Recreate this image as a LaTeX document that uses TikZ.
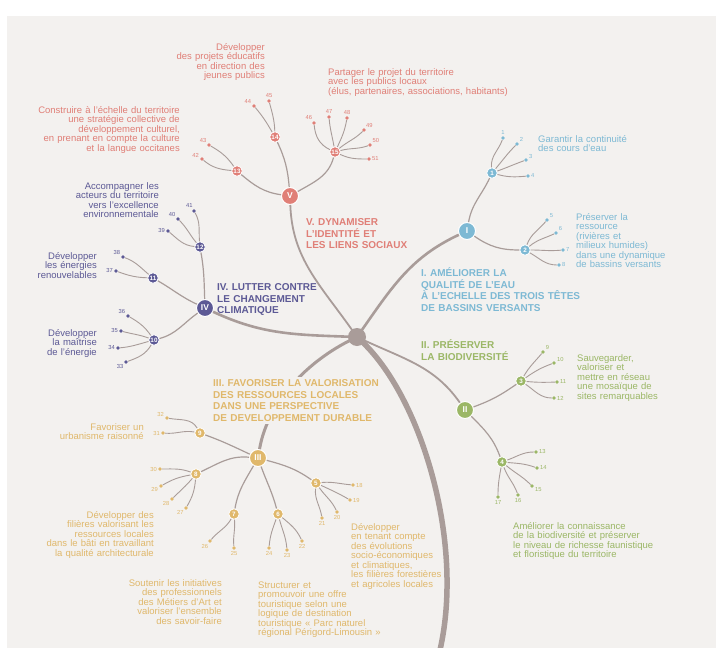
\documentclass[tikz,border=0pt]{standalone}
\usepackage{fontspec}
\setmainfont{Liberation Sans}
\definecolor{bgpaper}{HTML}{F3F1EF}
\definecolor{branchgrey}{HTML}{A99C99}
\definecolor{axeV}{HTML}{E07F77}
\definecolor{axeI}{HTML}{7DB9D4}
\definecolor{axeII}{HTML}{9BB766}
\definecolor{axeIII}{HTML}{E0B86B}
\definecolor{axeIV}{HTML}{5C5995}
\newcommand{\axetext}{\fontsize{9.5}{9.5}\selectfont\lineskiplimit=-10pt}
\newcommand{\axetitle}{\fontsize{10}{11.5}\selectfont\bfseries\lineskiplimit=-10pt}
\begin{document}
\begin{tikzpicture}[x=1pt,y=-1pt]
      % Define styles for nodes
      \tikzstyle{hub} = [circle,fill=branchgrey,minimum size=18pt,inner sep=0pt]
      \tikzstyle{axe} = [circle,fill=#1,draw=white,line width=1pt,
      minimum size=17pt,inner sep=0pt,text=white,
      font=\fontsize{8.5}{8.5}\selectfont\bfseries]
      \tikzstyle{goal} = [circle,fill=#1,draw=white,line width=.8pt,
      minimum size=10.5pt,inner sep=0pt,text=white,
      font=\fontsize{6.3}{6.3}\selectfont\bfseries]
      \tikzstyle{leaf} = [circle,fill=#1,minimum size=3.8pt,inner sep=0pt]
      \tikzstyle{num} = [inner sep=.9pt,text=#1,font=\fontsize{5.8}{5.8}\selectfont]
      \tikzstyle{twig} = [draw=branchgrey,line width=.9pt]
      \tikzstyle{bough} = [draw=branchgrey,line width=1.2pt]
      \tikzstyle{blurb} = [inner sep=0pt,text=#1,font=\axetext,text width=200pt]
      \tikzstyle{headline} = [inner sep=0pt,text=#1,font=\axetitle,
      text width=180pt,align=left,anchor=base west]

      % Paper
      \useasboundingbox (0,0) rectangle (716,648);
      \fill[white] (0,0) rectangle (716,648);
      \fill[bgpaper] (7,16) rectangle (716,648);

      % Hub and axes
      \node[hub] (hub) at (357,337) {};
      \coordinate (trunkend) at (440,650);
      \node[axe=axeI] (I) at (467,231) {I};
      \node[axe=axeII] (II) at (465,410) {II};
      \node[axe=axeIII] (III) at (258,458) {III};
      \node[axe=axeIV] (IV) at (205,308) {IV};
      \node[axe=axeV] (V) at (290,196) {V};

      % Goals
      \node[goal=axeI] (g1) at (492,173) {1};
      \node[goal=axeI] (g2) at (525,250) {2};
      \node[goal=axeII] (g3) at (521,381) {3};
      \node[goal=axeII] (g4) at (502,462) {4};
      \node[goal=axeIII] (g5) at (316,483) {5};
      \node[goal=axeIII] (g6) at (278,514) {6};
      \node[goal=axeIII] (g7) at (234,514) {7};
      \node[goal=axeIII] (g8) at (196,474) {8};
      \node[goal=axeIII] (g9) at (200,433) {9};
      \node[goal=axeIV] (g10) at (154,340) {10};
      \node[goal=axeIV] (g11) at (153,278) {11};
      \node[goal=axeIV] (g12) at (200,247) {12};
      \node[goal=axeV] (g13) at (237,171) {13};
      \node[goal=axeV] (g14) at (275,137) {14};
      \node[goal=axeV] (g15) at (335,152) {15};

      % Actions (axe I)
      \node[leaf=axeI,label={[num=axeI]above:1}] (l1) at (503,138) {};
      \node[leaf=axeI,label={[num=axeI]30:2}] (l2) at (517,144) {};
      \node[leaf=axeI,label={[num=axeI]20:3}] (l3) at (526,160) {};
      \node[leaf=axeI,label={[num=axeI]right:4}] (l4) at (528,176) {};
      \node[leaf=axeI,label={[num=axeI]30:5}] (l5) at (547,220) {};
      \node[leaf=axeI,label={[num=axeI]30:6}] (l6) at (556,233) {};
      \node[leaf=axeI,label={[num=axeI]right:7}] (l7) at (563,250) {};
      \node[leaf=axeI,label={[num=axeI]right:8}] (l8) at (559,265) {};

      % Actions (axe II)
      \node[leaf=axeII,label={[num=axeII]30:9}] (l9) at (543,352) {};
      \node[leaf=axeII,label={[num=axeII]20:10}] (l10) at (554,363) {};
      \node[leaf=axeII,label={[num=axeII]right:11}] (l11) at (557,382) {};
      \node[leaf=axeII,label={[num=axeII]right:12}] (l12) at (554,398) {};
      \node[leaf=axeII,label={[num=axeII]right:13}] (l13) at (536,452) {};
      \node[leaf=axeII,label={[num=axeII]right:14}] (l14) at (537,468) {};
      \node[leaf=axeII,label={[num=axeII]-20:15}] (l15) at (532,486) {};
      \node[leaf=axeII,label={[num=axeII]below:16}] (l16) at (518,495) {};
      \node[leaf=axeII,label={[num=axeII]below:17}] (l17) at (498,497) {};

      % Actions (axe III)
      \node[leaf=axeIII,label={[num=axeIII]right:18}] (l18) at (353,485) {};
      \node[leaf=axeIII,label={[num=axeIII]right:19}] (l19) at (350,500) {};
      \node[leaf=axeIII,label={[num=axeIII]below:20}] (l20) at (337,512) {};
      \node[leaf=axeIII,label={[num=axeIII]below:21}] (l21) at (322,518) {};
      \node[leaf=axeIII,label={[num=axeIII]below:22}] (l22) at (302,541) {};
      \node[leaf=axeIII,label={[num=axeIII]below:23}] (l23) at (287,550) {};
      \node[leaf=axeIII,label={[num=axeIII]below:24}] (l24) at (269,548) {};
      \node[leaf=axeIII,label={[num=axeIII]below:25}] (l25) at (234,548) {};
      \node[leaf=axeIII,label={[num=axeIII]245:26}] (l26) at (210,541) {};
      \node[leaf=axeIII,label={[num=axeIII]230:27}] (l27) at (186,508) {};
      \node[leaf=axeIII,label={[num=axeIII]220:28}] (l28) at (172,499) {};
      \node[leaf=axeIII,label={[num=axeIII]200:29}] (l29) at (161,486) {};
      \node[leaf=axeIII,label={[num=axeIII]left:30}] (l30) at (160,469) {};
      \node[leaf=axeIII,label={[num=axeIII]left:31}] (l31) at (163,433) {};
      \node[leaf=axeIII,label={[num=axeIII]160:32}] (l32) at (167,418) {};

      % Actions (axe IV)
      \node[leaf=axeIV,label={[num=axeIV]220:33}] (l33) at (126,362) {};
      \node[leaf=axeIV,label={[num=axeIV]left:34}] (l34) at (118,348) {};
      \node[leaf=axeIV,label={[num=axeIV]left:35}] (l35) at (121,331) {};
      \node[leaf=axeIV,label={[num=axeIV]145:36}] (l36) at (128,316) {};
      \node[leaf=axeIV,label={[num=axeIV]left:37}] (l37) at (116,271) {};
      \node[leaf=axeIV,label={[num=axeIV]150:38}] (l38) at (123,257) {};
      \node[leaf=axeIV,label={[num=axeIV]left:39}] (l39) at (168,231) {};
      \node[leaf=axeIV,label={[num=axeIV]135:40}] (l40) at (178,219) {};
      \node[leaf=axeIV,label={[num=axeIV]100:41}] (l41) at (194,211) {};

      % Actions (axe V)
      \node[leaf=axeV,label={[num=axeV]160:42}] (l42) at (202,159) {};
      \node[leaf=axeV,label={[num=axeV]135:43}] (l43) at (209,145) {};
      \node[leaf=axeV,label={[num=axeV]145:44}] (l44) at (254,106) {};
      \node[leaf=axeV,label={[num=axeV]above:45}] (l45) at (269,101) {};
      \node[leaf=axeV,label={[num=axeV]110:46}] (l46) at (314,123) {};
      \node[leaf=axeV,label={[num=axeV]above:47}] (l47) at (329,117) {};
      \node[leaf=axeV,label={[num=axeV]above:48}] (l48) at (347,118) {};
      \node[leaf=axeV,label={[num=axeV]60:49}] (l49) at (364,130) {};
      \node[leaf=axeV,label={[num=axeV]40:50}] (l50) at (370,145) {};
      \node[leaf=axeV,label={[num=axeV]right:51}] (l51) at (369,159) {};

      % Trunk and main branches
      \draw[branchgrey,line width=5.5pt,shorten <=-4pt] (hub) .. controls (420,395) and (465,540) .. (trunkend);
      \draw[branchgrey,line width=2.6pt,shorten <=-3pt] (hub) to[out=55,in=-155] (I);
      \draw[branchgrey,line width=1.8pt,shorten <=-3pt] (hub) to[out=-25,in=125] (II);
      \draw[branchgrey,line width=3pt,shorten <=-3pt] (hub) .. controls (310,360) and (268,400) .. (III);
      \draw[branchgrey,line width=2.6pt,shorten <=-3pt] (hub) to[out=178,in=-25] (IV);
      \draw[branchgrey,line width=1.8pt,shorten >=-3pt] (V) to[out=-88,in=125] (hub);

      % Axes to goals
      \draw[bough] (I) to[out=80,in=-115] (g1);
      \draw[bough] (I) to[out=-35,in=180] (g2);
      \draw[bough] (II) to[out=20,in=-145] (g3);
      \draw[bough] (II) to[out=-45,in=110] (g4);
      \draw[bough] (III) to[out=-15,in=145] (g5);
      \draw[bough] (III) to[out=-70,in=105] (g6);
      \draw[bough] (III) to[out=-120,in=80] (g7);
      \draw[bough] (III) to[out=175,in=25] (g8);
      \draw[bough] (III) to[out=155,in=-20] (g9);
      \draw[bough] (IV) to[out=-145,in=15] (g10);
      \draw[bough] (IV) to[out=155,in=-30] (g11);
      \draw[bough] (IV) to[out=92,in=-80] (g12);
      \draw[bough] (V) to[out=172,in=-40] (g13);
      \draw[bough] (V) to[out=95,in=-65] (g14);
      \draw[bough] (V) to[out=30,in=-105] (g15);

      % Goals to actions
      \draw[twig] (g1) to[out=95,in=-110] (l1);
      \draw[twig] (g1) to[out=50,in=-135] (l2);
      \draw[twig] (g1) to[out=20,in=-160] (l3);
      \draw[twig] (g1) to[out=-15,in=-175] (l4);
      \draw[twig] (g2) to[out=70,in=-130] (l5);
      \draw[twig] (g2) to[out=40,in=-155] (l6);
      \draw[twig] (g2) to[out=0,in=-175] (l7);
      \draw[twig] (g2) to[out=-30,in=180] (l8);
      \draw[twig] (g3) to[out=60,in=-130] (l9);
      \draw[twig] (g3) to[out=35,in=-160] (l10);
      \draw[twig] (g3) to[out=-5,in=-178] (l11);
      \draw[twig] (g3) to[out=-35,in=180] (l12);
      \draw[twig] (g4) to[out=20,in=180] (l13);
      \draw[twig] (g4) to[out=-5,in=160] (l14);
      \draw[twig] (g4) to[out=-40,in=135] (l15);
      \draw[twig] (g4) to[out=-70,in=110] (l16);
      \draw[twig] (g4) to[out=-100,in=90] (l17);
      \draw[twig] (g5) to[out=5,in=175] (l18);
      \draw[twig] (g5) to[out=-25,in=150] (l19);
      \draw[twig] (g5) to[out=-55,in=115] (l20);
      \draw[twig] (g5) to[out=-95,in=100] (l21);
      \draw[twig] (g6) to[out=-40,in=115] (l22);
      \draw[twig] (g6) to[out=-75,in=95] (l23);
      \draw[twig] (g6) to[out=-110,in=85] (l24);
      \draw[twig] (g7) to[out=-85,in=95] (l25);
      \draw[twig] (g7) to[out=-120,in=50] (l26);
      \draw[twig] (g8) to[out=-95,in=60] (l27);
      \draw[twig] (g8) to[out=-130,in=45] (l28);
      \draw[twig] (g8) to[out=-170,in=30] (l29);
      \draw[twig] (g8) to[out=160,in=0] (l30);
      \draw[twig] (g9) to[out=170,in=-5] (l31);
      \draw[twig] (g9) to[out=120,in=-10] (l32);
      \draw[twig] (g10) to[out=-120,in=20] (l33);
      \draw[twig] (g10) to[out=-165,in=5] (l34);
      \draw[twig] (g10) to[out=160,in=-15] (l35);
      \draw[twig] (g10) to[out=125,in=-30] (l36);
      \draw[twig] (g11) to[out=178,in=-20] (l37);
      \draw[twig] (g11) to[out=140,in=-20] (l38);
      \draw[twig] (g12) to[out=175,in=-40] (l39);
      \draw[twig] (g12) to[out=130,in=-45] (l40);
      \draw[twig] (g12) to[out=95,in=-60] (l41);
      \draw[twig] (g13) to[out=175,in=-40] (l42);
      \draw[twig] (g13) to[out=125,in=-30] (l43);
      \draw[twig] (g14) to[out=120,in=-50] (l44);
      \draw[twig] (g14) to[out=92,in=-75] (l45);
      \draw[twig] (g15) to[out=155,in=-85] (l46);
      \draw[twig] (g15) to[out=100,in=-85] (l47);
      \draw[twig] (g15) to[out=65,in=-100] (l48);
      \draw[twig] (g15) to[out=40,in=-135] (l49);
      \draw[twig] (g15) to[out=15,in=-160] (l50);
      \draw[twig] (g15) to[out=-25,in=180] (l51);

      % Texts of axe V
      \node[blurb=axeV,align=right,anchor=base east] (tJeunes) at (265,50.4)
      {Développer\\des projets éducatifs\\en direction des\\jeunes publics};
      \node[blurb=axeV,align=left,anchor=base west] (tPartager) at (328,75.4)
      {Partager le projet du territoire\\avec les publics locaux\\(élus, partenaires, associations, habitants)};
      \node[blurb=axeV,align=right,anchor=base east] (tCulture) at (180,113.4)
      {Construire à l'échelle du territoire\\une stratégie collective de\\développement culturel,\\en prenant en compte la culture\\et la langue occitanes};

      % Texts of axe IV
      \node[blurb=axeIV,align=right,anchor=base east] (tExcellence) at (159,189.4)
      {Accompagner les\\acteurs du territoire\\vers l'excellence\\environnementale};
      \node[blurb=axeIV,align=right,anchor=base east] (tEnergies) at (97,259.4)
      {Développer\\les énergies\\renouvelables};
      \node[blurb=axeIV,align=right,anchor=base east] (tMaitrise) at (97,336.4)
      {Développer\\la maîtrise\\de l'énergie};

      % Texts of axe I
      \node[blurb=axeI,align=left,anchor=base west] (tContinuite) at (538,142.4)
      {Garantir la continuité\\des cours d'eau};
      \node[blurb=axeI,align=left,anchor=base west] (tRessource) at (576,220.4)
      {Préserver la\\ressource\\(rivières et\\milieux humides)\\dans une dynamique\\de bassins versants};

      % Texts of axe II
      \node[blurb=axeII,align=left,anchor=base west] (tSites) at (577,361.4)
      {Sauvegarder,\\valoriser et\\mettre en réseau\\une mosaïque de\\sites remarquables};
      \node[blurb=axeII,align=left,anchor=base west] (tConnaissance) at (513,529.4)
      {Améliorer la connaissance\\de la biodiversité et préserver\\le niveau de richesse faunistique\\et floristique du territoire};

      % Texts of axe III
      \node[blurb=axeIII,align=right,anchor=base east] (tUrbanisme) at (144,430.4)
      {Favoriser un\\urbanisme raisonné};
      \node[blurb=axeIII,align=right,anchor=base east] (tBati) at (154,518.4)
      {Développer des\\filières valorisant les\\ressources locales\\dans le bâti en travaillant\\la qualité architecturale};
      \node[blurb=axeIII,align=right,anchor=base east] (tMetiers) at (222,586.4)
      {Soutenir les initiatives\\des professionnels\\des Métiers d'Art et\\valoriser l'ensemble\\des savoir-faire};
      \node[blurb=axeIII,align=left,anchor=base west] (tTourisme) at (258,588.4)
      {Structurer et\\promouvoir une offre\\touristique selon une\\logique de destination\\touristique « Parc naturel\\régional Périgord-Limousin »};
      \node[blurb=axeIII,align=left,anchor=base west] (tFilieres) at (351,530.4)
      {Développer\\en tenant compte\\des évolutions\\socio-économiques\\et climatiques,\\les filières forestières\\et agricoles locales};

      % Titles of the axes
      \node[headline=axeV] (hV) at (306,225.6) {V. DYNAMISER\\L'IDENTITÉ ET\\LES LIENS SOCIAUX};
      \node[headline=axeIV] (hIV) at (217,290.6) {IV. LUTTER CONTRE\\LE CHANGEMENT\\CLIMATIQUE};
      \node[headline=axeI] (hI) at (421,276.6) {I. AMÉLIORER LA\\QUALITÉ DE L'EAU\\À L'ECHELLE DES TROIS TÊTES\\DE BASSINS VERSANTS};
      \node[headline=axeII] (hII) at (421,348.6) {II. PRÉSERVER\\LA BIODIVERSITÉ};
      \node[headline=axeIII,fill=bgpaper,inner sep=3pt,text width=170pt] (hIII) at (210,386.6)
      {III. FAVORISER LA VALORISATION\\DES RESSOURCES LOCALES\\DANS UNE PERSPECTIVE\\DE DEVELOPPEMENT DURABLE};
\end{tikzpicture}
\end{document}
